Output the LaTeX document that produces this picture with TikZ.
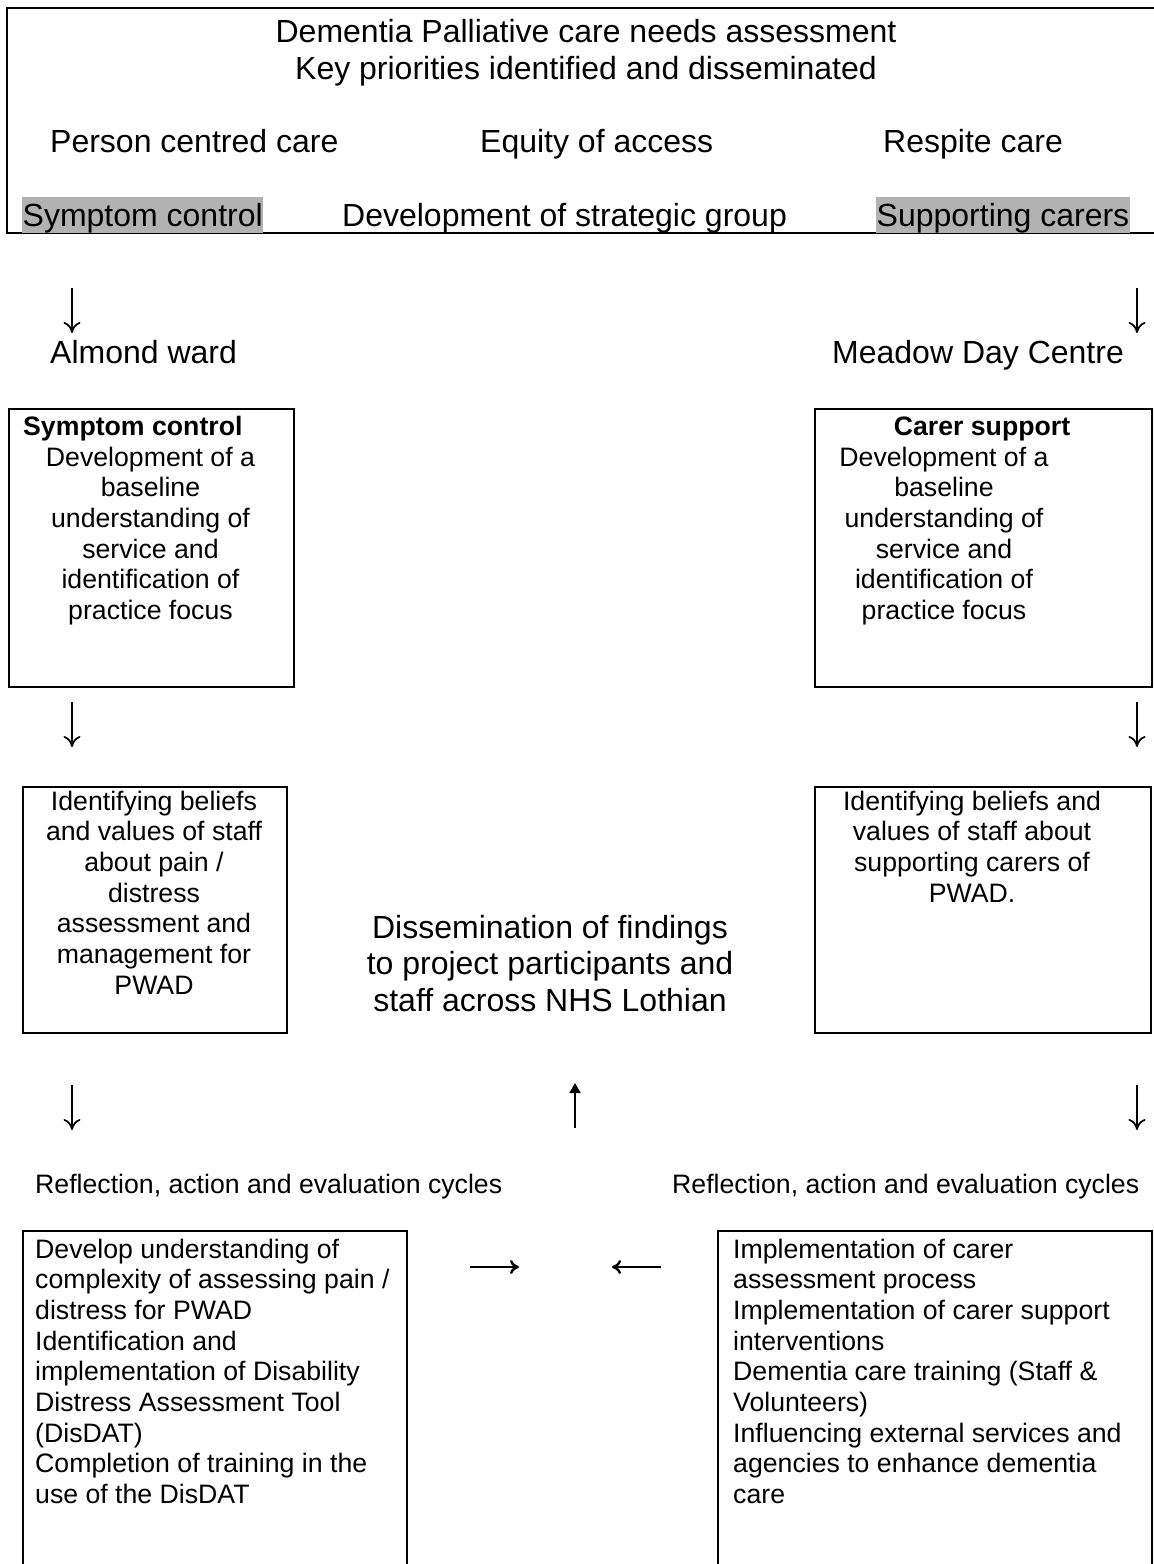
\documentclass[tikz,border=0pt]{standalone}
\usepackage{fontspec}
\setmainfont{Liberation Sans}
\usetikzlibrary{arrows.meta}
\definecolor{hlgray}{RGB}{178,178,178}
\begin{document}
\begin{tikzpicture}[x=1pt,y=-1pt,
  big/.style={font=\fontsize{32}{36.8}\selectfont, inner sep=0pt},
  small/.style={font=\fontsize{26.67}{30.67}\selectfont, inner sep=0pt},
  box/.style={draw, line width=2pt, inner sep=0pt, anchor=north west},
  hl/.style={fill=hlgray, inner xsep=0.5pt, inner ysep=0pt, text height=29pt, text depth=7pt},
  glyph/.style={line width=1.7pt, -{To[length=11pt,width=17pt]}},
  sidearrow/.style={line width=2.4pt, -{To[length=9pt,width=14pt]}},
  uparrow/.style={line width=1.8pt, -{Triangle[length=10pt,width=11pt]}}
]
\useasboundingbox (0,0) rectangle (1154,1564);
\fill[white] (0,0) rectangle (1154,1564);

% ---------- top box ----------
\coordinate (tbR) at (1154,8);
\coordinate (tbTL) at (7,8);
\coordinate (tbBL) at (7,233);
\coordinate (tbBR) at (1154,233);
\draw[line width=2.5pt] (tbR) -- (tbTL) -- (tbBL) -- (tbBR);

\node[big, align=center, anchor=north] (title) at (586,16.24)
  {\strut Dementia Palliative care needs assessment\\Key priorities identified and disseminated};
\node[big, anchor=base west] (pcc) at (50,152) {Person centred care};
\node[big, anchor=base west] (eq) at (480,152) {Equity of access};
\node[big, anchor=base west] (resp) at (883,152) {Respite care};
\node[big, hl, anchor=base west] (sc) at (22,226) {Symptom control};
\node[big, anchor=base west] (dsg) at (342,226) {Development of strategic group};
\node[big, hl, anchor=base west] (supc) at (876,226) {Supporting carers};

% ---------- first arrows ----------
\coordinate (r1La) at (72,288);  \coordinate (r1Lb) at (72,333);
\coordinate (r1Ra) at (1137,288); \coordinate (r1Rb) at (1137,333);
\draw[glyph] (r1La) -- (r1Lb);
\draw[glyph] (r1Ra) -- (r1Rb);

\node[big, anchor=base west] (almond) at (50,363) {Almond ward};
\node[big, anchor=base west] (meadow) at (832,363) {Meadow Day Centre};

% ---------- first boxes ----------
\node[box, minimum width=285pt, minimum height=278pt] (a1) at (8,408) {};
\node[small, anchor=base west, font=\fontsize{26.67}{30.67}\selectfont\bfseries] (a1h) at (23,435) {Symptom control};
\node[small, align=center, anchor=north] (a1t) at (150.5,444.5)
  {\strut Development of a\\baseline\\understanding of\\service and\\identification of\\practice focus};

\node[box, minimum width=337pt, minimum height=278pt] (b1) at (814,408) {};
\node[small, anchor=base, font=\fontsize{26.67}{30.67}\selectfont\bfseries] (b1h) at (982,435) {Carer support};
\node[small, align=center, anchor=north] (b1t) at (944,444.5)
  {\strut Development of a\\baseline\\understanding of\\service and\\identification of\\practice focus};

% ---------- second arrows ----------
\coordinate (r2La) at (72,702);  \coordinate (r2Lb) at (72,747);
\coordinate (r2Ra) at (1137,702); \coordinate (r2Rb) at (1137,747);
\draw[glyph] (r2La) -- (r2Lb);
\draw[glyph] (r2Ra) -- (r2Rb);

% ---------- second boxes ----------
\node[box, minimum width=264pt, minimum height=246pt] (a2) at (22,786) {};
\node[small, align=center, anchor=north] (a2t) at (154,788.5)
  {\strut Identifying beliefs\\and values of staff\\about pain /\\distress\\assessment and\\management for\\PWAD};

\node[box, minimum width=336pt, minimum height=246pt] (b2) at (814,786) {};
\node[small, align=center, anchor=north] (b2t) at (972,788.5)
  {\strut Identifying beliefs and\\values of staff about\\supporting carers of\\PWAD.};

\node[big, align=center, anchor=north] (diss) at (550,912.2)
  {\strut Dissemination of findings\\to project participants and\\staff across NHS Lothian};

% ---------- third arrows ----------
\coordinate (r3La) at (72,1085);  \coordinate (r3Lb) at (72,1130);
\coordinate (r3Ua) at (575,1128); \coordinate (r3Ub) at (575,1083);
\coordinate (r3Ra) at (1137,1085); \coordinate (r3Rb) at (1137,1130);
\draw[glyph] (r3La) -- (r3Lb);
\draw[uparrow] (r3Ua) -- (r3Ub);
\draw[glyph] (r3Ra) -- (r3Rb);

\node[small, anchor=base west] (reflL) at (35,1193) {Reflection, action and evaluation cycles};
\node[small, anchor=base west] (reflR) at (672,1193) {Reflection, action and evaluation cycles};

% ---------- bottom boxes ----------
\node[box, minimum width=384pt, minimum height=338pt] (a3) at (22,1230) {};
\node[small, align=left, anchor=north west] (a3t) at (35,1236.5)
  {\strut Develop understanding of\\complexity of assessing pain /\\distress for PWAD\\Identification and\\implementation of Disability\\Distress Assessment Tool\\(DisDAT)\\Completion of training in the\\use of the DisDAT};

\node[box, minimum width=434pt, minimum height=338pt] (b3) at (717,1230) {};
\node[small, align=left, anchor=north west] (b3t) at (733,1236.5)
  {\strut Implementation of carer\\assessment process\\Implementation of carer support\\interventions\\Dementia care training (Staff \&\\Volunteers)\\Influencing external services and\\agencies to enhance dementia\\care};

\coordinate (ra) at (470,1267); \coordinate (rb) at (519,1267);
\coordinate (la) at (661,1267); \coordinate (lb) at (612,1267);
\draw[sidearrow] (ra) -- (rb);
\draw[sidearrow] (la) -- (lb);
\end{tikzpicture}
\end{document}
